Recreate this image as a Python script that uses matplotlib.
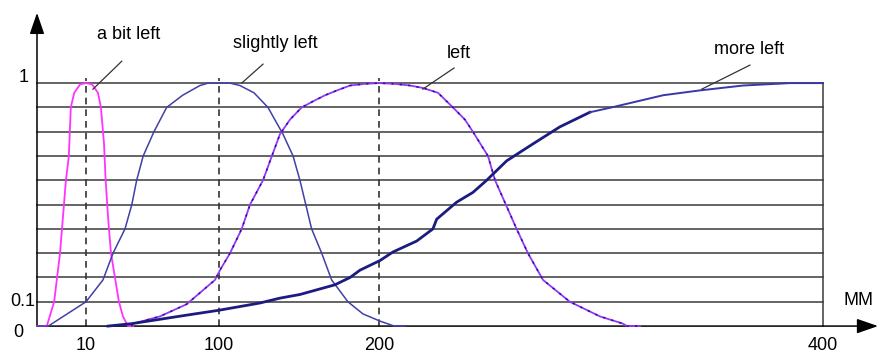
import numpy as np
import matplotlib
matplotlib.use("Agg")
import matplotlib.pyplot as plt

plt.rcParams['font.family'] = ['Liberation Sans', 'DejaVu Sans']

# membership curves, x in MM, y in [0, 1]
bit_x = [0, 2.0, 3.5, 4.1, 4.7, 5.3, 5.9, 6.5, 6.9, 7.6, 8.8, 10, 14.1, 18.1, 20.1,
         22.2, 23.3, 24.9, 26.9, 29.6, 32.3, 35.0, 38.4, 41.8]
bit_y = [0, 0, 0.1, 0.2, 0.3, 0.45, 0.6, 0.7, 0.9, 0.96, 0.995, 1, 0.995, 0.96, 0.9,
         0.75, 0.6, 0.45, 0.3, 0.2, 0.1, 0.04, 0.0, 0]

slight_x = [0, 2.3, 10, 21.5, 28.3, 36.4, 41.0, 44.3, 48.7, 56.0, 64.6, 75.4, 87.1,
            92.6, 106.9, 113.1, 121.9, 130.6, 140, 146.3, 150.6, 157.9, 164.2, 170.4,
            180.6, 190, 200.6, 206.9, 211.9]
slight_y = [0, 0, 0.1, 0.19, 0.3, 0.4, 0.5, 0.6, 0.7, 0.8, 0.9, 0.95, 0.99,
            1, 1, 0.99, 0.96, 0.9, 0.79, 0.7, 0.6, 0.4, 0.3, 0.19,
            0.1, 0.05, 0.02, 0, 0]

left_x = [40.9, 41.9, 60.1, 78.1, 97.3, 100.6, 106.9, 114.2, 119.4, 127.5, 138.1,
          144.4, 151.7, 158.8, 166.3, 173.8, 181.9, 191.3, 200, 207, 214, 219.8,
          226.6, 233.3, 238.7, 242.3, 249.1, 252.3, 262, 267.1,
          273.9, 286, 299.5, 309.9, 311.7, 317.6]
left_y = [0, 0.01, 0.04, 0.09, 0.19, 0.23, 0.3, 0.4, 0.5, 0.6, 0.79,
          0.85, 0.9, 0.925, 0.95, 0.97, 0.99, 0.997, 1, 0.997, 0.99, 0.98,
          0.96, 0.9, 0.85, 0.8, 0.7, 0.6, 0.4, 0.3,
          0.19, 0.1, 0.04, 0.01, 0, 0]

more_x = [24.9, 40.9, 78.1, 99.8, 125.6, 138.1, 150.6, 172.5, 181.9, 188.1, 200.5,
          206.3, 217, 224.3, 226, 235, 242.3, 248.5, 257.5, 269.4, 281.5, 295,
          304.8, 328, 344.6, 364, 385.1, 400]
more_y = [0, 0.01, 0.045, 0.065, 0.095, 0.115, 0.13, 0.17, 0.2, 0.23, 0.27,
          0.305, 0.35, 0.4, 0.44, 0.51, 0.55, 0.6, 0.68, 0.75, 0.82, 0.88,
          0.9, 0.95, 0.97, 0.99, 1, 1]

peaks = [10, 100, 200]
xticks = [10, 100, 200, 400]
xtick_labels = ['10', '100', '200', '400']
ytick_labels = ['1', '0.1', '0']
grid_levels = np.round(np.arange(0, 1.01, 0.1), 1)

labels = ['a bit left', 'slightly left', 'left', 'more left']
label_xy = [(39.1, 1.198), (135, 1.165), (236, 1.12), (366.7, 1.14)]
leader_from = [(34.2, 1.09), (127.5, 1.078), (233.8, 1.062), (367.1, 1.074)]
leader_to = [(14.7, 0.975), (114.2, 1.0), (219.7, 0.975), (345.4, 0.975)]

# the drawing's x axis is schematic: piecewise linear between the tick marks
mm_knots = [-10, 0, 10, 100, 200, 400, 500]
pos_knots = [-12, 37, 86, 219, 379, 823, 1045]


def fwd(v):
    return np.interp(v, mm_knots, pos_knots)


def inv(v):
    return np.interp(v, pos_knots, mm_knots)


fig = plt.figure(figsize=(8.8, 3.55), dpi=100)
ax = fig.add_axes([0, 0, 1, 1])
ax.set_xscale('function', functions=(fwd, inv))
ax.set_xlim(-7.55, 425.7)
ax.set_ylim(-0.119, 1.342)
ax.axis('off')

grid_c = '#3a3a3a'
for g in grid_levels[1:]:
    ax.plot([0, 400], [g, g], color=grid_c, lw=1.1, zorder=1)
ax.plot([400, 400], [0, 1], color=grid_c, lw=1.1, zorder=1)

# axes with arrows
arrow = dict(arrowstyle='-|>,head_length=1.3,head_width=0.45',
             color='black', lw=1.1, shrinkA=0, shrinkB=0)
ax.annotate('', xy=(0, 1.289), xytext=(0, 0), arrowprops=arrow)
ax.annotate('', xy=(424.8, 0), xytext=(0, 0), arrowprops=arrow)

for p in peaks:
    ax.plot([p, p], [0, 1.02], color='#333333', lw=1.2, ls=(0, (4, 3)), zorder=2)

ax.plot(bit_x, bit_y, color='#ff33ff', lw=1.3, zorder=3)
ax.plot(slight_x, slight_y, color='#4040a8', lw=1.1, zorder=3)
ax.plot(left_x, left_y, color='#9933ff', lw=1.3, zorder=3)
ax.plot(left_x, left_y, color='#1c1c80', lw=1.1, ls=(0, (1.5, 4)), zorder=4)
ax.plot(more_x[:22], more_y[:22], color='#1c1c80', lw=2.0, zorder=3)
ax.plot(more_x[21:], more_y[21:], color='#3838a8', lw=1.4, zorder=3)

for lab, xy, a, b in zip(labels, label_xy, leader_from, leader_to):
    ax.text(xy[0], xy[1], lab, fontsize=13, ha='center', va='center')
    ax.plot([a[0], b[0]], [a[1], b[1]], color='#333333', lw=0.9, zorder=5)

for t, lab in zip(xticks, xtick_labels):
    ax.text(t, -0.081, lab, fontsize=13, ha='center', va='center')

ytick_x = [23.5, 22.5, 18]
ytick_y = [1.023, 0.103, -0.025]
for tx, ty, lab in zip(ytick_x, ytick_y, ytick_labels):
    ax.text(inv(tx), ty, lab, fontsize=13, ha='center', va='center')

ax.text(415.8, 0.107, 'MM', fontsize=13, ha='center', va='center')

fig.savefig('out.png', dpi=100)
